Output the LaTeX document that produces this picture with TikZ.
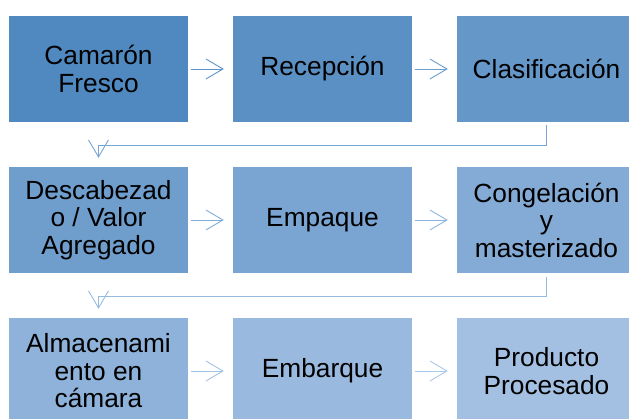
\documentclass[tikz,border=0pt]{standalone}
\usepackage{fontspec}
\setmainfont{Liberation Sans}
\usetikzlibrary{arrows.meta}
\definecolor{c1}{RGB}{80,137,192}
\definecolor{c2}{RGB}{90,144,196}
\definecolor{c3}{RGB}{101,151,201}
\definecolor{c4}{RGB}{111,158,205}
\definecolor{c5}{RGB}{122,165,210}
\definecolor{c6}{RGB}{132,171,214}
\definecolor{c7}{RGB}{142,178,218}
\definecolor{c8}{RGB}{153,185,223}
\definecolor{c9}{RGB}{163,192,227}
\definecolor{a1}{RGB}{95,148,202}
\definecolor{a2}{RGB}{108,157,207}
\definecolor{a3}{RGB}{118,164,211}
\definecolor{a4}{RGB}{130,172,216}
\definecolor{a5}{RGB}{140,180,220}
\definecolor{a6}{RGB}{150,187,224}
\definecolor{a7}{RGB}{160,194,228}
\definecolor{a8}{RGB}{170,200,232}
\tikzset{
  stepbox/.style={minimum width=179pt, minimum height=106pt, inner sep=0pt,
    align=center, text=black, font=\fontsize{26.3}{27.5}\selectfont},
  flow/.style={line width=0.9pt, -{Straight Barb[length=17pt,width=20pt,line width=0.9pt]},
    shorten <=3pt, shorten >=9pt}
}
\begin{document}
\begin{tikzpicture}[x=1pt,y=-1pt]
\useasboundingbox (0,0) rectangle (629,419);
\clip (0,0) rectangle (629,419);
\node[stepbox, fill=c1] (b1) at (98.5,69) {Camarón\\Fresco};
\node[stepbox, fill=c2] (b2) at (322.5,69) {Recepción};
\node[stepbox, fill=c3] (b3) at (546.5,69) {Clasificación};
\node[stepbox, fill=c4] (b4) at (98.5,220) {Descabezad\\o / Valor\\Agregado};
\node[stepbox, fill=c5] (b5) at (322.5,220) {Empaque};
\node[stepbox, fill=c6] (b6) at (546.5,220) {Congelación\\y\\masterizado};
\node[stepbox, fill=c7] (b7) at (98.5,371) {Almacenami\\ento en\\cámara};
\node[stepbox, fill=c8] (b8) at (322.5,371) {Embarque};
\node[stepbox, fill=c9] (b9) at (546.5,371) {Producto\\Procesado};
\draw[flow, a1] (b1.east) -- (b2.west);
\draw[flow, a2] (b2.east) -- (b3.west);
\draw[flow, a3] (b3.south) -- ++(0,23) -| (b4.north);
\draw[flow, a4] (b4.east) -- (b5.west);
\draw[flow, a5] (b5.east) -- (b6.west);
\draw[flow, a6, shorten <=4pt] (b6.south) -- ++(0,23) -| (b7.north);
\draw[flow, a7] (b7.east) -- (b8.west);
\draw[flow, a8] (b8.east) -- (b9.west);
\end{tikzpicture}
\end{document}
